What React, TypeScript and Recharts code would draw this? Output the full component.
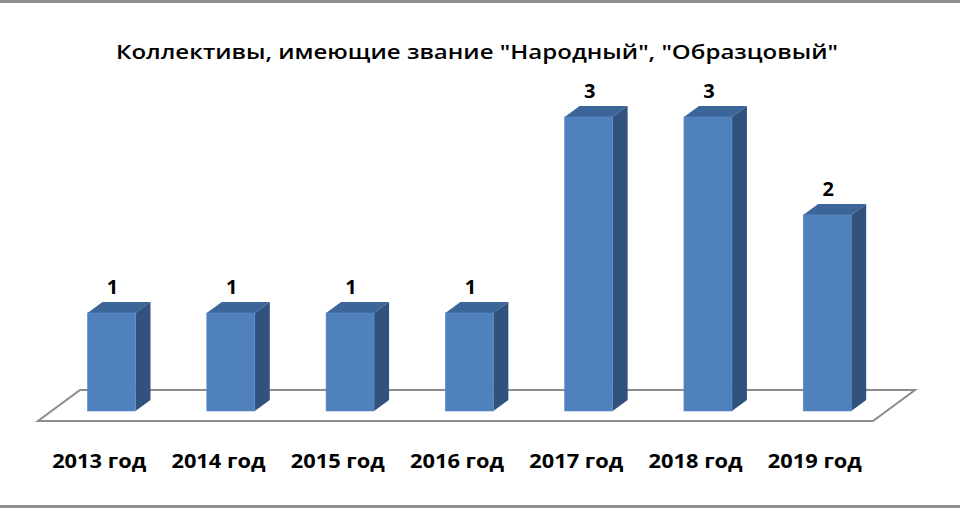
import React from "react";
import { BarChart, Bar, XAxis, YAxis, ReferenceLine, LabelList } from "recharts";

const categories = ["2013 год", "2014 год", "2015 год", "2016 год", "2017 год", "2018 год", "2019 год"];
const values = [1, 1, 1, 1, 3, 3, 2];
const yTicks = [0, 1, 2, 3];

const data = categories.map((name, i) => ({ name, value: values[i] }));

const FONT = "'Open Sans', 'Noto Sans', sans-serif";
const DEPTH_X = 15;
const DEPTH_Y = 11;
const MARGIN = { top: 117, right: 73.5, bottom: 39, left: 51.5 };
const AXIS_HEIGHT = 60;

function Box3D(props: any) {
  const { x, y, width, height } = props;
  if (!height) return null;
  const r = x + width;
  const b = y + height;
  return (
    <g>
      <polygon
        points={`${x},${y} ${x + DEPTH_X},${y - DEPTH_Y} ${r + DEPTH_X},${y - DEPTH_Y} ${r},${y}`}
        fill="#3C659A"
      />
      <polygon
        points={`${r},${y} ${r + DEPTH_X},${y - DEPTH_Y} ${r + DEPTH_X},${b - DEPTH_Y} ${r},${b}`}
        fill="#30527D"
      />
      <rect x={x} y={y} width={width} height={height} fill="#4F81BD" stroke="#5A8CC8" strokeWidth={0.6} />
    </g>
  );
}

// floor plane drawn from the y=0 reference line
function Floor(props: any) {
  const { x1, y1, x2 } = props;
  const fx = 13.5;
  const fy = 10;
  const bx = 42 - fx;
  const by = 31 - fy;
  const pts = [
    [x1 - fx, y1 + fy],
    [x2 - fx, y1 + fy],
    [x2 + bx, y1 - by],
    [x1 + bx, y1 - by],
  ]
    .map((p) => p.join(","))
    .join(" ");
  return <polygon points={pts} fill="#fff" stroke="#8C8C8C" strokeWidth={2} strokeLinejoin="miter" />;
}

function CategoryTick(props: any) {
  const { x, y, payload } = props;
  return (
    <text
      x={x - 12}
      y={y + 49}
      textAnchor="middle"
      fontFamily={FONT}
      fontWeight={700}
      fontSize={19}
      textLength={94}
      lengthAdjust="spacingAndGlyphs"
      fill="#000"
    >
      {payload.value}
    </text>
  );
}

function ValueLabel(props: any) {
  const { x, y, width, value } = props;
  return (
    <text x={x + width / 2 + 1} y={y - 19} textAnchor="middle" fontFamily={FONT} fontWeight={700} fontSize={20} fill="#000">
      {value}
    </text>
  );
}

export default function App() {
  return (
    <div style={{ position: "absolute", left: 0, top: 0, width: 960, height: 510, background: "#fff" }}>
      <div style={{ position: "absolute", left: 0, top: 0, width: 960, height: 3, background: "#8E8E8E" }} />
      <div style={{ position: "absolute", left: 0, top: 505, width: 960, height: 3, background: "#8E8E8E" }} />
      <svg width={960} height={80} style={{ position: "absolute", left: 0, top: 0 }}>
        <text
          x={477}
          y={59}
          textAnchor="middle"
          fontFamily={FONT}
          fontWeight={600}
          fontSize={20}
          textLength={722}
          lengthAdjust="spacingAndGlyphs"
          fill="#000"
        >
          Коллективы, имеющие звание "Народный", "Образцовый"
        </text>
      </svg>
      {/* floor layer, kept behind the bars */}
      <BarChart
        width={960}
        height={510}
        data={data}
        margin={{ ...MARGIN, bottom: MARGIN.bottom + AXIS_HEIGHT }}
        style={{ position: "absolute", left: 0, top: 0 }}
      >
        <XAxis dataKey="name" hide />
        <YAxis hide domain={[0, 3]} ticks={yTicks} />
        <ReferenceLine y={0} shape={Floor} ifOverflow="visible" />
        <Bar dataKey="value" fill="none" isAnimationActive={false} />
      </BarChart>
      <BarChart
        width={960}
        height={510}
        data={data}
        margin={MARGIN}
        barSize={48}
        style={{ position: "absolute", left: 0, top: 0 }}
      >
        <XAxis dataKey="name" axisLine={false} tickLine={false} height={AXIS_HEIGHT} tick={<CategoryTick />} interval={0} />
        <YAxis hide domain={[0, 3]} ticks={yTicks} />
        <Bar dataKey="value" shape={<Box3D />} isAnimationActive={false}>
          <LabelList dataKey="value" content={<ValueLabel />} />
        </Bar>
      </BarChart>
    </div>
  );
}
